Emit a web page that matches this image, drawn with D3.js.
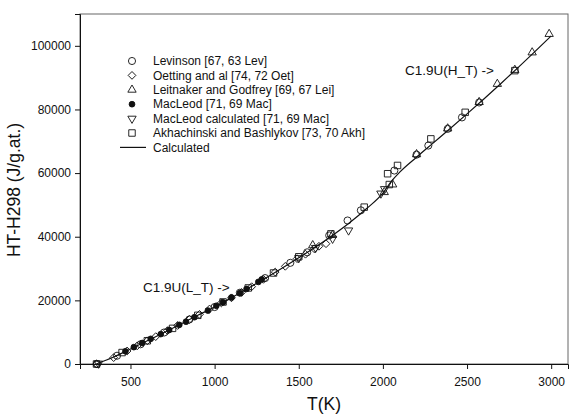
<!DOCTYPE html>
<html>
<head>
<meta charset="utf-8">
<script src="https://cdn.jsdelivr.net/npm/d3@7"></script>
<style>
  body { margin: 0; background: #fff; }
  svg { font-family: Arial, "Liberation Sans", sans-serif; }
</style>
</head>
<body>
<svg width="570" height="416"></svg>
<script>
  // calculated curve
  var calcT = [298, 400, 500, 600, 700, 800, 900, 1000, 1100, 1200, 1300, 1400, 1500, 1600, 1700, 1800, 1900, 2000, 2050, 2100, 2200, 2300, 2400, 2500, 2600, 2700, 2800, 2900, 3000];
  var calcH = [0, 2200, 4700, 7300, 9900, 12600, 15300, 17900, 20800, 23800, 26900, 30100, 33400, 36800, 40400, 44300, 48700, 53700, 57400, 60300, 65000, 69500, 74000, 78600, 83300, 88100, 93000, 98000, 103100];

  // measured sets
  var levT = [300, 420, 560, 700, 850, 1000, 1150, 1300, 1450, 1550, 1681, 1790, 1869, 2068, 2200, 2270, 2385, 2470, 2572];
  var levH = [0, 2600, 6200, 9900, 14000, 17900, 22400, 27000, 31800, 35100, 40400, 45100, 48300, 60800, 65800, 68650, 73900, 77500, 82200];

  var oetT = [298, 400, 480, 540, 600, 650, 720, 780, 850, 910, 970, 1040, 1100, 1160, 1220, 1290, 1360, 1420, 1490, 1540, 1592, 1620, 1662];
  var oetH = [0, 2000, 4100, 5700, 7300, 8600, 10500, 12100, 14000, 15600, 17300, 19200, 20800, 22500, 24300, 26600, 28900, 30700, 33100, 34500, 36200, 37000, 37800];

  var leiT = [1583, 1700, 2008, 2058, 2200, 2385, 2572, 2680, 2784, 2887, 2988];
  var leiH = [37300, 40500, 54000, 56400, 65900, 74000, 82300, 88000, 92400, 97900, 103700];

  var macT = [470, 520, 570, 620, 680, 730, 790, 830, 880, 960, 1010, 1050, 1100, 1150, 1190, 1260, 1280];
  var macH = [4000, 5300, 6600, 7900, 9400, 10700, 12300, 13300, 14700, 16800, 18300, 19400, 20900, 22300, 23600, 25800, 26600];

  var maccT = [310, 1500, 1600, 1701, 1796, 1988, 2010];
  var maccH = [150, 33300, 36500, 39400, 42000, 53600, 55000];

  var akhT = [298, 450, 600, 750, 900, 1050, 1200, 1350, 1500, 1691, 1889, 2028, 2038, 2087, 2285, 2489, 2784];
  var akhH = [0, 3600, 7300, 11200, 15300, 19500, 23900, 28600, 33700, 40900, 49300, 59800, 56400, 62400, 70750, 79100, 92200];

  var xTicks = [500, 1000, 1500, 2000, 2500, 3000];
  var yTicks = [0, 20000, 40000, 60000, 80000, 100000];

  var svg = d3.select("svg"),
    mLeft = 80,
    mRight = 568,
    mTop = 14,
    mBottom = 364;

  var x = d3.scaleLinear().domain([200, 3100]).range([mLeft, mRight]);
  var y = d3.scaleLinear().domain([0, 110000]).range([mBottom, mTop]);

  function zip(ts, hs) {
    return ts.map(function (t, i) {
      return { t: t, h: hs[i] };
    });
  }

  var series = [
    { name: "Levinson [67, 63 Lev]", data: zip(levT, levH), type: d3.symbolCircle, size: 40, rot: 0, fill: "none" },
    { name: "Oetting and al [74, 72 Oet]", data: zip(oetT, oetH), type: d3.symbolSquare, size: 30, rot: 45, fill: "none" },
    { name: "Leitnaker and Godfrey [69, 67 Lei]", data: zip(leiT, leiH), type: d3.symbolTriangle, size: 30, rot: 0, fill: "none" },
    { name: "MacLeod [71, 69 Mac]", data: zip(macT, macH), type: d3.symbolCircle, size: 26, rot: 0, fill: "#111" },
    { name: "MacLeod calculated [71, 69 Mac]", data: zip(maccT, maccH), type: d3.symbolTriangle, size: 30, rot: 180, fill: "none" },
    { name: "Akhachinski and Bashlykov [73, 70 Akh]", data: zip(akhT, akhH), type: d3.symbolSquare, size: 42, rot: 0, fill: "none" }
  ];

  // frame
  svg.append("rect")
    .attr("x", mLeft).attr("y", mTop)
    .attr("width", mRight - mLeft).attr("height", mBottom - mTop)
    .attr("fill", "none").attr("stroke", "#666").attr("stroke-width", 1);

  var xAxis = svg.append("g")
    .attr("transform", "translate(0," + mBottom + ")")
    .call(d3.axisBottom(x).tickValues(xTicks).tickSize(5).tickPadding(8).tickFormat(d3.format("d")));
  var yAxis = svg.append("g")
    .attr("transform", "translate(" + mLeft + ",0)")
    .call(d3.axisLeft(y).tickValues(yTicks).tickSize(5).tickPadding(4).tickFormat(d3.format("d")));

  [xAxis, yAxis].forEach(function (a) {
    a.select(".domain").attr("stroke", "#111");
    a.selectAll("line").attr("stroke", "#111");
    a.selectAll("text").attr("fill", "#111").style("font-size", "12px");
  });

  svg.append("text")
    .attr("x", 324).attr("y", 410)
    .attr("text-anchor", "middle")
    .style("font-size", "17.5px")
    .attr("fill", "#111")
    .text("T(K)");

  svg.append("text")
    .attr("transform", "translate(20," + 190 + ") rotate(-90)")
    .attr("text-anchor", "middle")
    .style("font-size", "17.5px")
    .attr("fill", "#111")
    .text("HT-H298 (J/g.at.)");

  // calculated line
  var line = d3.line()
    .x(function (d) { return x(d.t); })
    .y(function (d) { return y(d.h); })
    .curve(d3.curveMonotoneX);

  svg.append("path")
    .datum(zip(calcT, calcH))
    .attr("d", line)
    .attr("fill", "none")
    .attr("stroke", "#111")
    .attr("stroke-width", 1.2);

  series.forEach(function (s) {
    svg.append("g")
      .selectAll("path")
      .data(s.data)
      .enter()
      .append("path")
      .attr("d", d3.symbol().type(s.type).size(s.size))
      .attr("transform", function (d) {
        return "translate(" + x(d.t) + "," + y(d.h) + ") rotate(" + s.rot + ")";
      })
      .attr("fill", s.fill)
      .attr("stroke", "#111")
      .attr("stroke-width", 0.9);
  });

  // annotations
  svg.append("text")
    .attr("x", 143).attr("y", 292)
    .style("font-size", "13.5px")
    .attr("fill", "#111")
    .text("C1.9U(L_T) ->");
  svg.append("text")
    .attr("x", 405).attr("y", 75)
    .style("font-size", "13.5px")
    .attr("fill", "#111")
    .text("C1.9U(H_T) ->");

  // legend
  var legend = svg.append("g");
  series.forEach(function (s, i) {
    var ly = 61 + i * 14.4;
    legend.append("path")
      .attr("d", d3.symbol().type(s.type).size(s.size))
      .attr("transform", "translate(132," + ly + ") rotate(" + s.rot + ")")
      .attr("fill", s.fill)
      .attr("stroke", "#111")
      .attr("stroke-width", 0.9);
    legend.append("text")
      .attr("x", 153).attr("y", ly)
      .attr("dy", "0.35em")
      .style("font-size", "12px")
      .attr("fill", "#111")
      .text(s.name);
  });
  var cy = 61 + 6 * 14.4;
  legend.append("line")
    .attr("x1", 120).attr("x2", 146)
    .attr("y1", cy).attr("y2", cy)
    .attr("stroke", "#111").attr("stroke-width", 1.2);
  legend.append("text")
    .attr("x", 153).attr("y", cy)
    .attr("dy", "0.35em")
    .style("font-size", "12px")
    .attr("fill", "#111")
    .text("Calculated");
</script>
</body>
</html>
